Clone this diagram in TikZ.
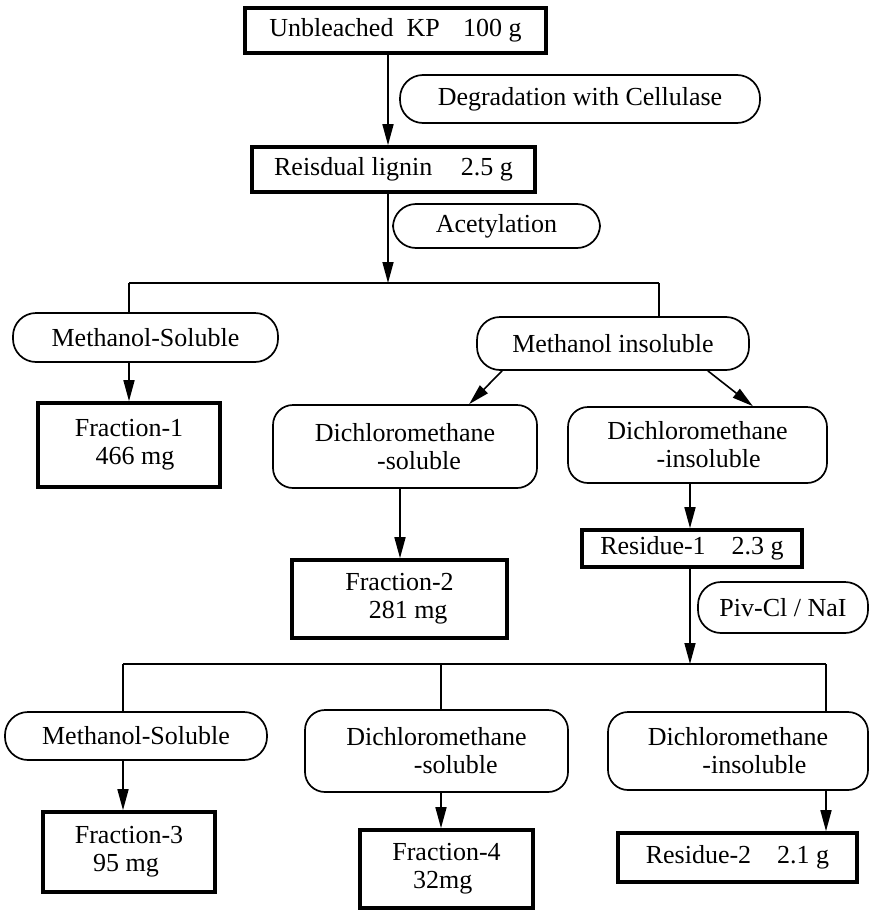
\documentclass[tikz,border=0pt]{standalone}
\usepackage{fontspec}
\setmainfont{Liberation Serif}
\usetikzlibrary{arrows.meta}
\begin{document}
\begin{tikzpicture}[x=1pt,y=-1pt,
  every node/.style={font=\fontsize{26}{28}\selectfont, inner sep=0pt},
  tbox/.style={draw, rectangle, line width=3.6pt},
  pill/.style={draw, rectangle, line width=1.7pt, rounded corners=23pt},
  rbox/.style={draw, rectangle, line width=1.7pt, rounded corners=20pt},
  conn/.style={line width=1.6pt},
  arr/.style={line width=1.6pt, -{Triangle[length=21pt,width=11pt]}}
]
\useasboundingbox (0,0) rectangle (870,910);

% nodes
\node[tbox, minimum width=301pt, minimum height=45pt] (top) at (395.5,30.5) {Unbleached\ \ KP\hspace{0.9em}100 g};
\node[pill, minimum width=360pt, minimum height=48pt] (degr) at (580,99) {Degradation with Cellulase};
\node[tbox, minimum width=283pt, minimum height=45pt] (reis) at (393.5,169.5) {Reisdual lignin\hspace{1.1em}2.5 g};
\node[pill, minimum width=207pt, minimum height=44pt] (acet) at (496.5,226) {Acetylation};

\node[pill, minimum width=265pt, minimum height=49pt] (ms1) at (145.5,337.5) {Methanol-Soluble};
\node[pill, minimum width=272pt, minimum height=53pt] (mi1) at (613,343.5) {Methanol insoluble};
\node[tbox, minimum width=182pt, minimum height=84pt, align=left] (f1) at (129,445) {Fraction-1\\\hspace*{0.8em}466 mg};
\node[rbox, minimum width=264pt, minimum height=83pt, align=left] (ds1) at (405,446.5) {Dichloromethane\\\hspace*{2.4em}-soluble};
\node[rbox, minimum width=259pt, minimum height=76pt, align=left] (di1) at (697.5,445) {Dichloromethane\\\hspace*{1.9em}-insoluble};
\node[tbox, minimum width=215pt, minimum height=78pt, align=left] (f2) at (399.5,599) {Fraction-2\\\hspace*{0.9em}281 mg};
\node[tbox, minimum width=220pt, minimum height=37pt] (r1) at (692,548.5) {Residue-1\hspace{1em}2.3 g};
\node[pill, minimum width=170pt, minimum height=51pt] (piv) at (783,607.5) {Piv-Cl / NaI};

\node[pill, minimum width=262pt, minimum height=48pt] (ms2) at (136,736) {Methanol-Soluble};
\node[rbox, minimum width=263pt, minimum height=82pt, align=left] (ds2) at (436.5,751) {Dichloromethane\\\hspace*{2.6em}-soluble};
\node[rbox, minimum width=260pt, minimum height=78pt, align=left] (di2) at (738,751) {Dichloromethane\\\hspace*{2.1em}-insoluble};
\node[tbox, minimum width=172pt, minimum height=80pt, align=left] (f3) at (129,852) {Fraction-3\\\hspace*{0.7em}95 mg};
\node[tbox, minimum width=173pt, minimum height=78pt, align=left] (f4) at (446.5,869) {Fraction-4\\\hspace*{0.8em}32mg};
\node[tbox, minimum width=239pt, minimum height=49pt] (r2) at (737.5,857.5) {Residue-2\hspace{1em}2.1 g};

% branch coordinates
\coordinate (b1) at (388,283);
\coordinate (b1l) at (129,283);
\coordinate (b1r) at (659,283);
\coordinate (a2) at (400,500);
\coordinate (b2) at (690,664);
\coordinate (b2l) at (123,664);
\coordinate (b2m) at (441,664);
\coordinate (b2r) at (826,664);

% connectors
\draw[arr] (top.south -| b1) -- (reis.north -| b1);
\draw[arr] (reis.south -| b1) -- (b1);
\draw[conn] (b1l) -- (b1r);
\draw[conn] (b1l) -- (ms1.north -| b1l);
\draw[conn] (b1r) -- (mi1.north -| b1r);
\draw[arr] (ms1.south -| b1l) -- (f1.north -| b1l);
\draw[arr] ([xshift=26pt]mi1.south west) -- ([xshift=197pt]ds1.north west);
\draw[arr] ([xshift=-42pt]mi1.south east) -- ([xshift=-75pt]di1.north east);
\draw[arr] (ds1.south -| a2) -- (f2.north -| a2);
\draw[arr] (di1.south -| b2) -- (r1.north -| b2);
\draw[arr] (r1.south -| b2) -- (b2);
\draw[conn] (b2l) -- (b2r);
\draw[conn] (b2l) -- (ms2.north -| b2l);
\draw[conn] (b2m) -- (ds2.north -| b2m);
\draw[conn] (b2r) -- (di2.north -| b2r);
\draw[arr] (ms2.south -| b2l) -- (f3.north -| b2l);
\draw[arr] (ds2.south -| b2m) -- (f4.north -| b2m);
\draw[arr] (di2.south -| b2r) -- (r2.north -| b2r);
\end{tikzpicture}
\end{document}
